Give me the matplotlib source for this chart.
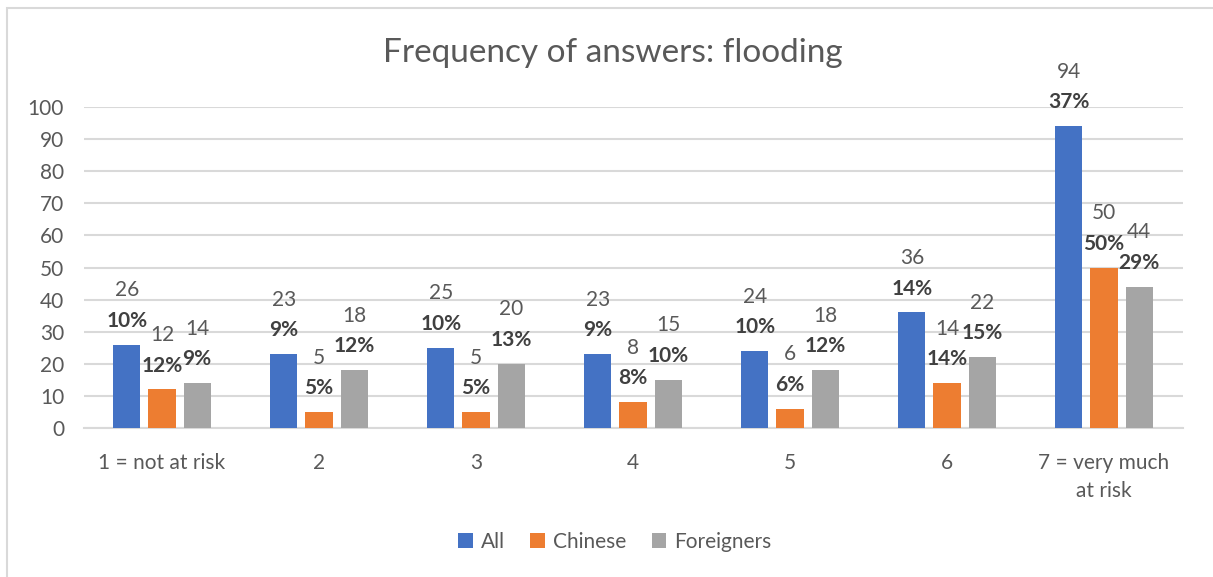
import matplotlib
matplotlib.use("Agg")
import matplotlib.pyplot as plt
from matplotlib.patches import Rectangle
import numpy as np

categories = ["1 = not at risk", "2", "3", "4", "5", "6", "7 = very much\nat risk"]
series_names = ["All", "Chinese", "Foreigners"]
all_counts = [26, 23, 25, 23, 24, 36, 94]
chinese_counts = [12, 5, 5, 8, 6, 14, 50]
foreign_counts = [14, 18, 20, 15, 18, 22, 44]
all_pct = [10, 9, 10, 9, 10, 14, 37]
chinese_pct = [12, 5, 5, 8, 6, 14, 50]
foreign_pct = [9, 12, 13, 10, 12, 15, 29]
y_ticks = [0, 10, 20, 30, 40, 50, 60, 70, 80, 90, 100]

colors = ["#4472C4", "#ED7D31", "#A5A5A5"]
text_gray = "#595959"
pct_gray = "#404040"
grid_gray = "#D9D9D9"

plt.rcParams["font.family"] = ["Lato", "DejaVu Sans"]

W, H = 1213, 577
fig = plt.figure(figsize=(W / 100, H / 100), dpi=100)

# outer chart frame
fig.patches.append(Rectangle((7 / W, -0.1), 1.2, (H - 8) / H + 0.1,
                             transform=fig.transFigure, fill=False,
                             edgecolor="#D9D9D9", linewidth=1.5))

left, right = 83.5 / W, 1182.5 / W
bottom, top = 1 - 428 / H, 1 - 107 / H
ax = fig.add_axes([left, bottom, right - left, top - bottom])

x = np.arange(len(categories))
width = 0.172
step = 0.223
data = [all_counts, chinese_counts, foreign_counts]
pcts = [all_pct, chinese_pct, foreign_pct]

for i, (vals, pv, col, name) in enumerate(zip(data, pcts, colors, series_names)):
    xs = x + (i - 1) * step
    ax.bar(xs, vals, width, color=col, label=name, zorder=3)
    for xi, v, p in zip(xs, vals, pv):
        ax.annotate(f"{p}%", (xi, v), xytext=(0, 10), textcoords="offset points",
                    ha="center", va="bottom", fontsize=15, fontweight="bold",
                    color=pct_gray, zorder=4)
        ax.annotate(f"{v}", (xi, v), xytext=(0, 32), textcoords="offset points",
                    ha="center", va="bottom", fontsize=15,
                    color=text_gray, zorder=4)

ax.set_xlim(-0.5, len(categories) - 0.5)
ax.set_ylim(0, 100)
ax.set_yticks(y_ticks)
ax.set_xticks(x)
ax.set_xticklabels(categories, fontsize=15, color=text_gray, linespacing=1.5)
ax.tick_params(axis="y", length=0, pad=14, labelsize=15, labelcolor=text_gray)
ax.tick_params(axis="x", length=0, pad=18)
ax.yaxis.grid(True, color=grid_gray, linewidth=1.5, zorder=0)
ax.set_axisbelow(True)
for s in ["left", "right", "top"]:
    ax.spines[s].set_visible(False)
ax.spines["bottom"].set_color(grid_gray)
ax.spines["bottom"].set_linewidth(1.5)

fig.text(613 / W, 1 - 53 / H, "Frequency of answers: flooding", ha="center",
         va="center", fontsize=24, color=text_gray)

handles, labels = ax.get_legend_handles_labels()
fig.legend(handles, labels, loc="center", bbox_to_anchor=(615 / W, 1 - 542 / H),
           ncol=3, frameon=False, fontsize=15, labelcolor=text_gray,
           handlelength=0.7, handleheight=0.7, handletextpad=0.4,
           columnspacing=1.2)

fig.savefig("out.png", dpi=100)
